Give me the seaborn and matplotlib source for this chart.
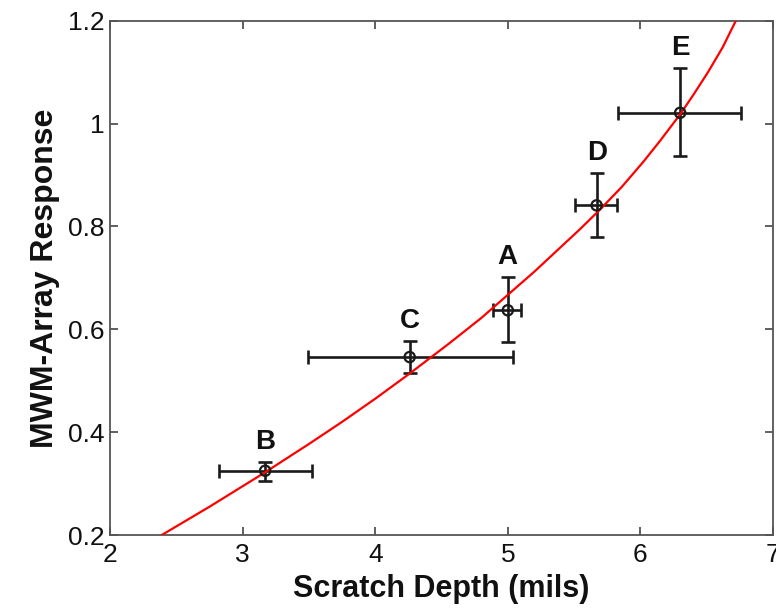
import matplotlib
matplotlib.use("Agg")
import matplotlib.pyplot as plt
import seaborn as sns
import pandas as pd
import numpy as np

# Measured samples
labels = ["A", "B", "C", "D", "E"]
depth = [5.00, 3.17, 4.26, 5.67, 6.30]
response = [0.637, 0.325, 0.546, 0.841, 1.021]
depth_lo = [4.89, 2.82, 3.495, 5.51, 5.83]
depth_hi = [5.10, 3.52, 5.04, 5.82, 6.76]
resp_lo = [0.575, 0.305, 0.515, 0.780, 0.936]
resp_hi = [0.702, 0.342, 0.577, 0.903, 1.108]

# Calibration curve
curve_depth = [2.39, 2.75, 3.17, 3.50, 3.75, 4.00, 4.26, 4.56, 4.80, 5.00,
               5.20, 5.40, 5.55, 5.70, 5.86, 6.02, 6.15, 6.30, 6.40, 6.51,
               6.62, 6.72]
curve_resp = [0.200, 0.255, 0.322, 0.377, 0.420, 0.465, 0.514, 0.573, 0.622,
              0.667, 0.712, 0.760, 0.796, 0.834, 0.877, 0.925, 0.967, 1.018,
              1.056, 1.100, 1.148, 1.200]

sns.set_style("white")
plt.rcParams["font.family"] = ["Liberation Sans", "DejaVu Sans"]

fig = plt.figure(figsize=(7.76, 6.13), dpi=100)
ax = fig.add_axes([0.1418, 0.1272, 0.8543, 0.8390])

pts = pd.DataFrame({"label": labels, "depth": depth, "response": response,
                    "xlo": depth_lo, "xhi": depth_hi,
                    "ylo": resp_lo, "yhi": resp_hi})
curve = pd.DataFrame({"depth": curve_depth, "response": curve_resp})

sns.lineplot(data=curve, x="depth", y="response", ax=ax, color="#ff0000",
             linewidth=1.6, sort=False, zorder=3)

xerr = np.vstack([pts["depth"] - pts["xlo"], pts["xhi"] - pts["depth"]])
yerr = np.vstack([pts["response"] - pts["ylo"], pts["yhi"] - pts["response"]])
ax.errorbar(pts["depth"], pts["response"], xerr=xerr, yerr=yerr, fmt="none",
            ecolor="#1a1a1a", elinewidth=1.9, capsize=5, capthick=1.9, zorder=2)
sns.scatterplot(data=pts, x="depth", y="response", ax=ax, marker="o", s=55,
                facecolor="none", edgecolor="#1a1a1a", linewidth=1.6, zorder=4)

for _, r in pts.iterrows():
    ax.annotate(r["label"], (r["depth"], r["yhi"]), xytext=(0, 14.5),
                textcoords="offset points", ha="center", va="center",
                fontsize=20, fontweight="bold", color="#111111")

ax.set_xlim(2, 7)
ax.set_ylim(0.2, 1.2)
ax.set_xticks([2, 3, 4, 5, 6, 7])
ax.set_xticklabels(["2", "3", "4", "5", "6", "7"])
ax.set_yticks([0.2, 0.4, 0.6, 0.8, 1.0, 1.2])
ax.set_yticklabels(["0.2", "0.4", "0.6", "0.8", "1", "1.2"])
ax.tick_params(direction="in", length=6, width=1.2, colors="#444444",
               labelcolor="#111111", labelsize=19, top=True, right=True,
               bottom=True, left=True)
ax.tick_params(axis="x", pad=6)
ax.tick_params(axis="y", pad=4)
for s in ax.spines.values():
    s.set_visible(True)
    s.set_color("#555555")
    s.set_linewidth(1.3)

ax.set_xlabel("Scratch Depth (mils)", fontsize=22, fontweight="bold",
              color="#111111", labelpad=5)
ax.set_ylabel("MWM-Array Response", fontsize=23, fontweight="bold",
              color="#111111", labelpad=6)

fig.savefig("out.png", dpi=100)
